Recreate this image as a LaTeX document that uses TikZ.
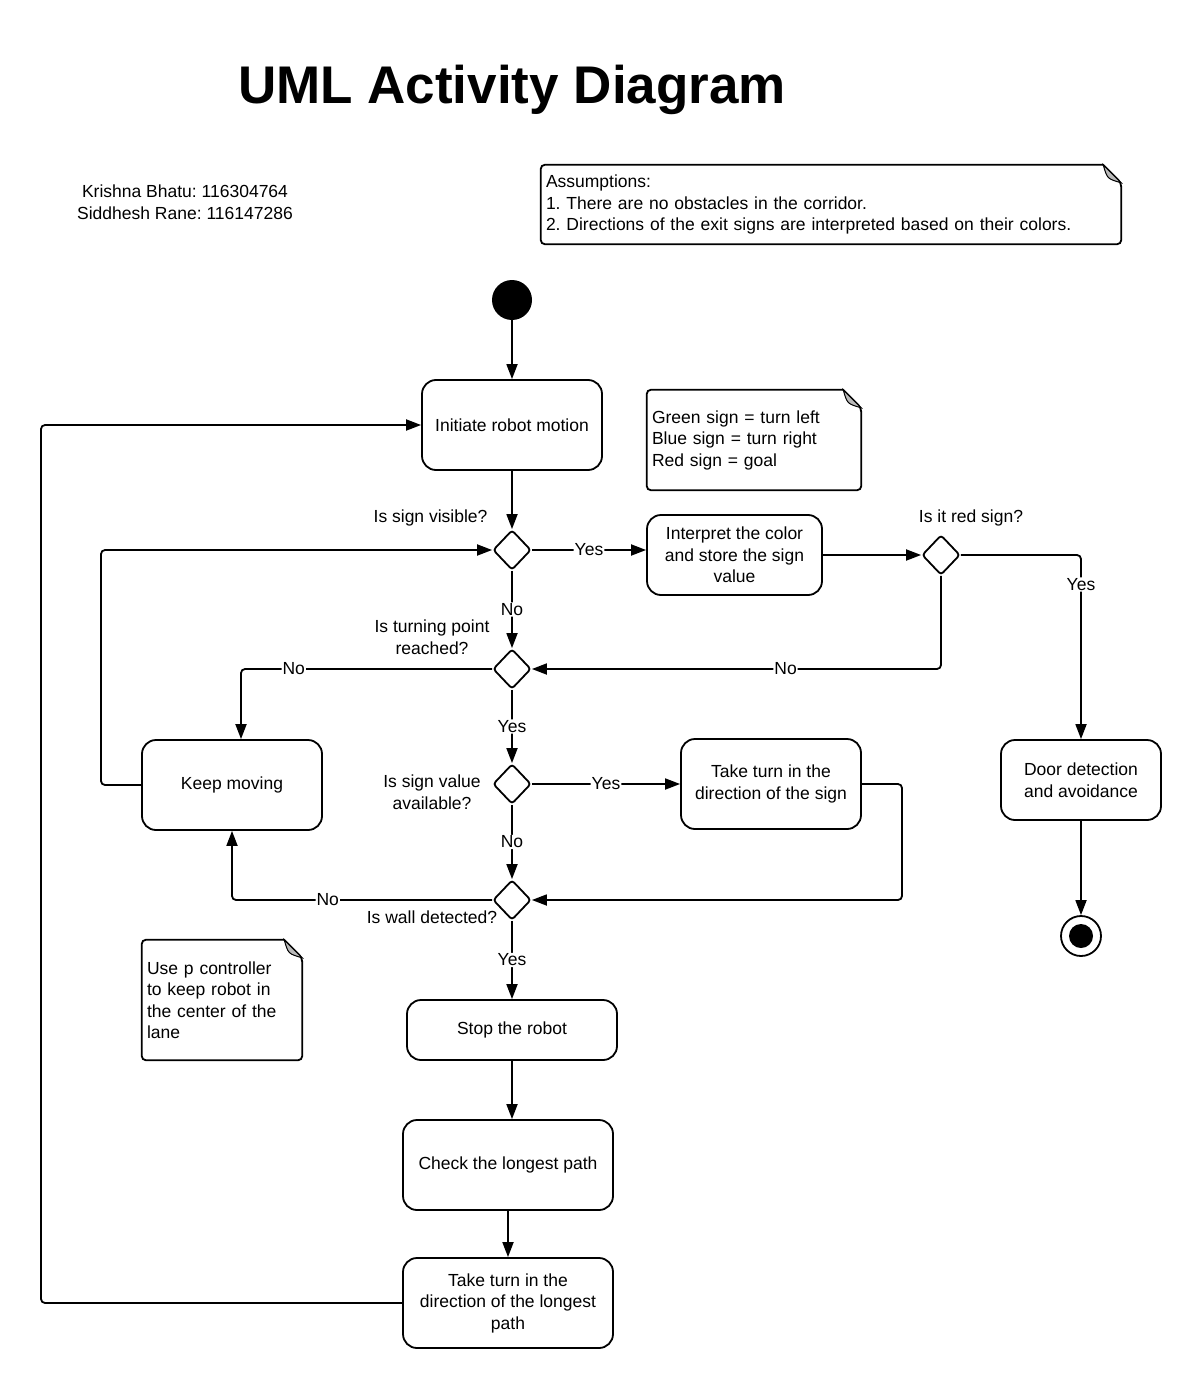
\documentclass[tikz,border=0pt]{standalone}
\usepackage{fontspec}
\setmainfont{Liberation Sans}
\usetikzlibrary{shapes,arrows,positioning,calc,arrows.meta}
\frenchspacing

\newcommand{\bodyfont}{\fontsize{17.5}{21.5}\selectfont}
% note outline with folded corner
\newcommand{\foldnote}[1]{%
  \draw[line width=1.8pt, rounded corners=4pt] ([xshift=-18pt]#1.north east) -- (#1.north west) -- (#1.south west) -- (#1.south east) -- ([yshift=-18pt]#1.north east) [sharp corners] -- cycle;
  \filldraw[fill=gray!55, line width=1pt] ([xshift=-18pt]#1.north east) .. controls ([xshift=-14pt,yshift=-14pt]#1.north east) .. ([yshift=-18pt]#1.north east) -- cycle;}

\begin{document}
\begin{tikzpicture}[x=1pt, y=-1pt,
    act/.style={draw, line width=1.8pt, rounded corners=14pt, align=center, font=\bodyfont},
    cond/.style={draw, diamond, line width=1.8pt, minimum width=38pt, minimum height=40pt, inner sep=0pt, rounded corners=3pt},
    flow/.style={line width=1.8pt, rounded corners=4pt, -{Triangle[length=15pt, width=11pt]}},
    lbl/.style={fill=white, inner sep=1pt, font=\bodyfont},
    txt/.style={font=\bodyfont, align=center},
    notebox/.style={align=left, inner xsep=5pt, inner ysep=0pt, font=\bodyfont}]
    \useasboundingbox (0,0) rectangle (1202,1388);

    \node[font=\fontsize{53}{60}\selectfont\bfseries] (title) at (512,90) {UML Activity Diagram};
    \node[txt, align=center] (names) at (185,202) {Krishna Bhatu: 116304764\\Siddhesh Rane: 116147286};

    % notes
    \node[notebox, text width=570pt, minimum height=79pt] (assume) at (831,204.5) {Assumptions:\\1. There are no obstacles in the corridor.\\2. Directions of the exit signs are interpreted based on their colors.\par\vspace{6pt}};
    \foldnote{assume}
    \node[notebox, text width=204pt, minimum height=100pt] (signs) at (754,440) {Green sign = turn left\\Blue sign = turn right\\Red sign = goal};
    \foldnote{signs}
    \node[notebox, text width=150pt, minimum height=120pt] (pctrl) at (222,1000) {Use p controller\\to keep robot in\\the center of the\\lane\par\vspace{10pt}};
    \foldnote{pctrl}

    % activities
    \node[circle, fill, minimum size=40pt, inner sep=0pt] (start) at (512,300) {};
    \node[act, minimum width=180pt, minimum height=90pt] (init) at (512,425) {Initiate robot motion};
    \node[act, minimum width=175pt, minimum height=80pt] (interp) at (734.5,555) {Interpret the color\\and store the sign\\value};
    \node[act, minimum width=180pt, minimum height=90pt] (tsign) at (771,784) {Take turn in the\\direction of the sign};
    \node[act, minimum width=180pt, minimum height=90pt] (keep) at (232,785) {Keep moving};
    \node[act, minimum width=160pt, minimum height=80pt] (door) at (1081,780) {Door detection\\and avoidance};
    \node[act, minimum width=210pt, minimum height=60pt] (stop) at (512,1030) {Stop the robot};
    \node[act, minimum width=210pt, minimum height=90pt] (check) at (508,1165) {Check the longest path};
    \node[act, minimum width=210pt, minimum height=90pt] (tlong) at (508,1303) {Take turn in the\\direction of the longest\\path};
    \node[circle, draw, line width=1.8pt, minimum size=40pt, inner sep=0pt] (fin) at (1081,936) {};
    \node[circle, fill, minimum size=24pt, inner sep=0pt] (findot) at (fin) {};

    % decisions
    \node[cond] (d1) at (512,550) {};
    \node[cond] (d2) at (941,555) {};
    \node[cond] (d3) at (512,669) {};
    \node[cond] (d4) at (512,784) {};
    \node[cond] (d5) at (512,900) {};
    \node[txt, anchor=east] (q1) at (491,518) {Is sign visible?};
    \node[txt] (q2) at (971,518) {Is it red sign?};
    \node[txt] (q3) at (432,637) {Is turning point\\reached?};
    \node[txt] (q4) at (432,792) {Is sign value\\available?};
    \node[txt] (q5) at (432,917) {Is wall detected?};

    \coordinate (rgt) at (902,784);
    \coordinate (lpA) at (101,785);
    \coordinate (lpB) at (41,1303);

    % flows
    \draw[flow] (start) -- (init);
    \draw[flow] (init) -- (d1);
    \draw[flow] (d1.east) -- node[lbl]{Yes} (d1.east -| interp.west);
    \draw[flow] (interp.east) -- (d2.west);
    \draw[flow] (d2.east) -| node[lbl, pos=0.58]{Yes} (door.north);
    \draw[flow] (d2.south) |- node[lbl, pos=0.69]{No} (d3.east);
    \draw[flow] (d1) -- node[lbl]{No} (d3);
    \draw[flow] (d3.west) -| node[lbl, pos=0.395]{No} ([xshift=9pt]keep.north);
    \draw[flow] (d3) -- node[lbl]{Yes} (d4);
    \draw[flow] (d4.east) -- node[lbl]{Yes} (tsign.west);
    \draw[flow] (tsign.east) -- (rgt) |- (d5.east);
    \draw[flow] (d4) -- node[lbl]{No} (d5);
    \draw[flow] (d5.west) -| node[lbl, pos=0.316]{No} (keep.south);
    \draw[flow] (keep.west) -- (lpA) |- (d1.west);
    \draw[flow] (d5) -- node[lbl]{Yes} (stop);
    \draw[flow] (stop.south) -- (stop.south |- check.north);
    \draw[flow] (check) -- (tlong);
    \draw[flow] (tlong.west) -- (lpB) |- (init.west);
    \draw[flow] (door) -- (fin);
\end{tikzpicture}
\end{document}
